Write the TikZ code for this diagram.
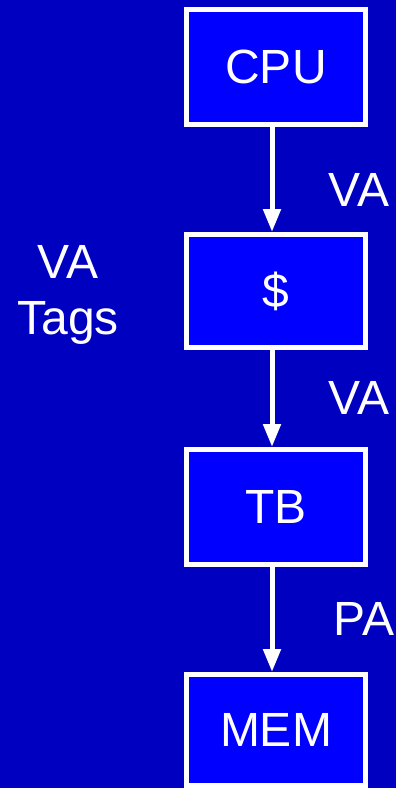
\documentclass[tikz,border=0pt]{standalone}
\usepackage{fontspec}
\setmainfont{Liberation Sans}
\usetikzlibrary{arrows.meta}
\definecolor{bgblue}{RGB}{0,0,192}
\definecolor{boxblue}{RGB}{0,0,255}
\begin{document}
\begin{tikzpicture}[x=1pt,y=-1pt,
  box/.style={draw=white, line width=5pt, fill=boxblue, minimum width=179pt, inner sep=0pt, text=white, font=\fontsize{48}{56}\selectfont},
  lbl/.style={text=white, inner sep=0pt, anchor=base, font=\fontsize{48}{56}\selectfont},
  conn/.style={draw=white, line width=5pt, -{Triangle[width=17pt,length=23pt]}}]
\fill[bgblue] (0,0) rectangle (396,788);
\useasboundingbox (0,0) rectangle (396,788);
\node[box, minimum height=115pt] (cpu) at (276,67) {CPU};
\node[box, minimum height=113pt] (cache) at (276,291) {\$};
\node[box, minimum height=115pt] (tb) at (276,507) {TB};
\node[box, minimum height=111pt] (mem) at (276,730) {MEM};
\coordinate (ax) at (272,0);
\draw[conn] (cpu.south -| ax) -- (cache.north -| ax);
\draw[conn] (cache.south -| ax) -- (tb.north -| ax);
\draw[conn] (tb.south -| ax) -- (mem.north -| ax);
\node[lbl] (va1) at (359,206) {VA};
\node[lbl] (va2) at (359,414) {VA};
\node[lbl] (pa) at (364,635) {PA};
\node[lbl, align=center] (tags) at (68,334) {VA\\Tags};
\end{tikzpicture}
\end{document}
